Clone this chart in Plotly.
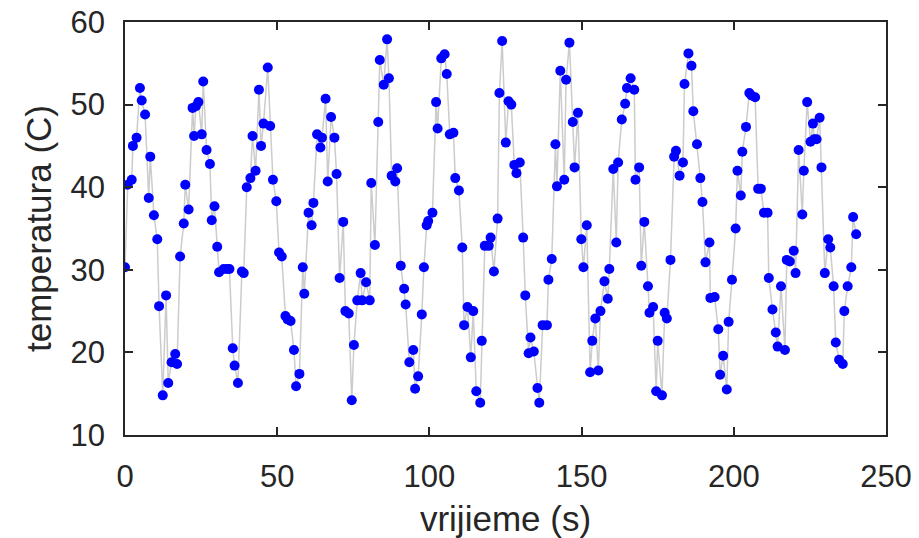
import plotly.graph_objects as go

# time (s)
t = [
    0.0, 0.9, 2.2, 2.6, 3.8, 4.9, 5.5, 6.6, 7.8, 8.3, 9.5, 10.6, 11.2, 12.4, 13.5, 14.2, 15.3, 16.5, 17.1, 18.1,
    19.3, 19.8, 20.9, 22.2, 22.7, 23.3, 24.1, 25.2, 25.7, 26.8, 27.9, 28.5, 29.4, 30.3, 30.9,
    32.4, 33.5, 34.3, 35.4, 36.0, 37.1, 38.4, 39.0, 40.0, 41.2, 41.9, 42.9, 44.0, 44.7, 45.5, 46.9, 47.7, 48.6,
    49.7, 50.6, 51.5, 52.7, 53.4, 54.4, 55.5, 56.2, 57.3, 58.4, 58.9, 60.3, 61.3, 61.9,
    63.1, 64.2, 64.7, 65.9, 66.6, 67.7, 68.8, 69.5, 70.5, 71.7, 72.4, 73.5, 74.5, 75.2, 76.3, 77.4, 77.9, 79.2,
    80.4, 80.9, 82.1, 83.2, 83.7, 85.0, 86.1, 86.7, 87.6, 88.8, 89.4, 90.6, 91.7, 92.2, 93.4,
    94.7, 95.3, 96.3, 97.5, 98.2, 99.1, 99.6, 101.0, 102.2, 102.7, 103.9, 105.0, 105.7, 106.7, 107.9, 108.5,
    109.7, 110.8, 111.4, 112.5, 113.6, 114.4, 115.4, 116.7, 117.2, 118.2, 119.5, 120.1, 121.2, 122.4, 123.0, 123.9,
    125.1, 126.0, 126.9, 127.9, 128.6, 129.7, 130.8, 131.5, 132.6, 133.2, 134.3, 135.5, 136.1, 137.2, 138.6, 139.1,
    140.2, 141.4, 141.9, 143.0, 144.3, 144.9, 146.0, 147.1, 147.7, 148.8, 149.9, 150.6, 151.7, 152.8, 153.5, 154.5, 155.5,
    156.2, 157.5, 158.6, 159.1, 160.4, 161.4, 162.0, 163.2, 164.3, 164.9, 166.1, 167.3, 167.7, 168.9, 169.6, 170.6,
    171.8, 172.3, 173.5, 174.5, 175.0, 176.4, 177.3, 178.0, 179.2, 180.4, 181.0, 182.2, 183.3, 183.8, 185.1,
    186.1, 186.7, 187.9, 189.0, 189.7, 190.7, 192.0, 192.3, 193.7, 194.9, 195.5, 196.5, 197.7, 198.3, 199.4, 200.6,
    201.2, 202.3, 202.8, 204.0, 205.1, 205.8, 207.0, 208.0, 208.9, 209.9, 211.1, 211.5, 212.7, 213.8, 214.4, 215.5,
    216.8, 217.4, 218.4,
    219.7, 220.3, 221.3, 222.5, 223.0, 224.1, 225.2, 226.0, 226.4, 227.2, 228.2, 228.8, 229.9, 231.0, 231.7, 232.8,
    233.5, 234.6, 235.8, 236.3, 237.4, 238.6, 239.2, 240.2,
]

# temperature (C)
temperatura = [
    30.3, 40.3, 40.9, 45.0, 46.0, 52.0, 50.5, 48.8, 38.7, 43.7, 36.6, 33.7, 25.6, 14.8, 26.9, 16.3, 18.8, 19.8, 18.6, 31.6,
    35.6, 40.3, 37.3, 49.6, 46.2, 49.8, 50.3, 46.4, 52.8, 44.5, 42.8, 36.0, 37.7, 32.8, 29.7,
    30.1, 30.1, 30.1, 20.5, 18.4, 16.3, 29.8, 29.6, 40.0, 41.1, 46.2, 42.0, 51.8, 45.0, 47.7, 54.5, 47.4, 40.9,
    38.3, 32.1, 31.6, 24.4, 24.0, 23.8, 20.3, 15.9, 17.4, 30.3, 27.1, 36.9, 35.4, 38.1,
    46.4, 44.8, 46.0, 50.7, 40.7, 48.5, 46.0, 41.6, 29.0, 35.8, 25.0, 24.7, 14.2, 20.9, 26.3, 29.6, 26.3, 28.5,
    26.3, 40.5, 33.0, 47.9, 55.4, 52.4, 57.9, 53.2, 41.4, 40.7, 42.3, 30.5, 27.7, 25.8, 18.8,
    20.3, 15.6, 17.1, 24.6, 30.3, 35.4, 35.9, 36.9, 50.3, 47.1, 55.6, 56.1, 53.7, 46.4, 46.6, 41.1,
    39.6, 32.7, 23.3, 25.5, 19.4, 25.0, 15.3, 13.9, 21.4, 32.9, 32.9, 33.9, 29.8, 36.2, 51.4, 57.7,
    45.4, 50.4, 50.0, 42.7, 41.7, 43.0, 33.9, 26.9, 19.9, 21.8, 20.1, 15.7, 13.9, 23.3, 23.3, 28.8,
    31.3, 45.2, 40.1, 54.1, 40.9, 53.0, 57.5, 47.9, 42.4, 49.0, 33.7, 30.3, 35.4, 17.6, 21.4, 24.1, 17.8,
    25.0, 28.6, 26.5, 30.1, 42.2, 33.3, 43.0, 48.2, 50.1, 52.0, 53.2, 51.8, 40.9, 42.4, 30.5, 35.8,
    28.0, 24.8, 25.5, 15.3, 21.4, 14.8, 24.8, 24.1, 31.2, 43.7, 44.4, 41.4, 43.0, 52.5, 56.2,
    54.7, 49.2, 45.2, 41.1, 38.2, 30.9, 33.3, 26.6, 26.7, 22.8, 17.3, 19.6, 15.5, 23.7, 28.8, 35.0,
    42.0, 39.0, 44.3, 47.3, 51.4, 51.1, 50.9, 39.8, 39.8, 36.9, 36.9, 29.0, 25.2, 22.4, 20.7, 28.0,
    20.3, 31.2, 31.0,
    32.3, 29.6, 44.5, 36.7, 42.0, 50.3, 45.5, 47.7, 45.8, 45.8, 48.4, 42.4, 29.6, 33.7, 32.7, 28.0,
    21.2, 19.1, 18.6, 25.0, 28.0, 30.3, 36.4, 34.3,
]

x_ticks = [0, 50, 100, 150, 200, 250]
y_ticks = [10, 20, 30, 40, 50, 60]
x_label = "vrijieme (s)"
y_label = "temperatura (C)"

DARK = "#262626"
FONT = "Liberation Sans, Arial, Helvetica, sans-serif"

fig = go.Figure()
fig.add_trace(go.Scatter(
    x=t, y=temperatura, mode="lines+markers",
    line=dict(color="#cccccc", width=1.5),
    marker=dict(color="#0000ff", size=10, line=dict(width=0)),
    showlegend=False,
))

axis_common = dict(
    showline=True, linecolor=DARK, linewidth=1.5, mirror="ticks",
    ticks="inside", ticklen=8, tickwidth=1.5, tickcolor=DARK,
    showgrid=False, zeroline=False, automargin=False,
    ticklabeloverflow="allow",
    tickfont=dict(family=FONT, size=31, color=DARK),
)

fig.update_layout(
    width=919, height=538,
    margin=dict(l=125, r=33, t=22, b=103),
    paper_bgcolor="white", plot_bgcolor="white",
    font=dict(family=FONT, color=DARK),
    hovermode=False,
    xaxis=dict(range=[0, 250], tickvals=x_ticks, ticklabelstandoff=13,
               title=dict(text=x_label, font=dict(family=FONT, size=35, color=DARK), standoff=22),
               **axis_common),
    yaxis=dict(range=[10, 60], tickvals=y_ticks, ticklabelstandoff=12,
               title=dict(text=y_label, font=dict(family=FONT, size=35, color=DARK), standoff=8),
               **axis_common),
)

# remove the default page margin so the figure fills the window exactly
fig.write_html("out.html",
               config={"displayModeBar": False},
               post_script="document.body.style.margin='0';document.body.style.overflow='hidden';")
